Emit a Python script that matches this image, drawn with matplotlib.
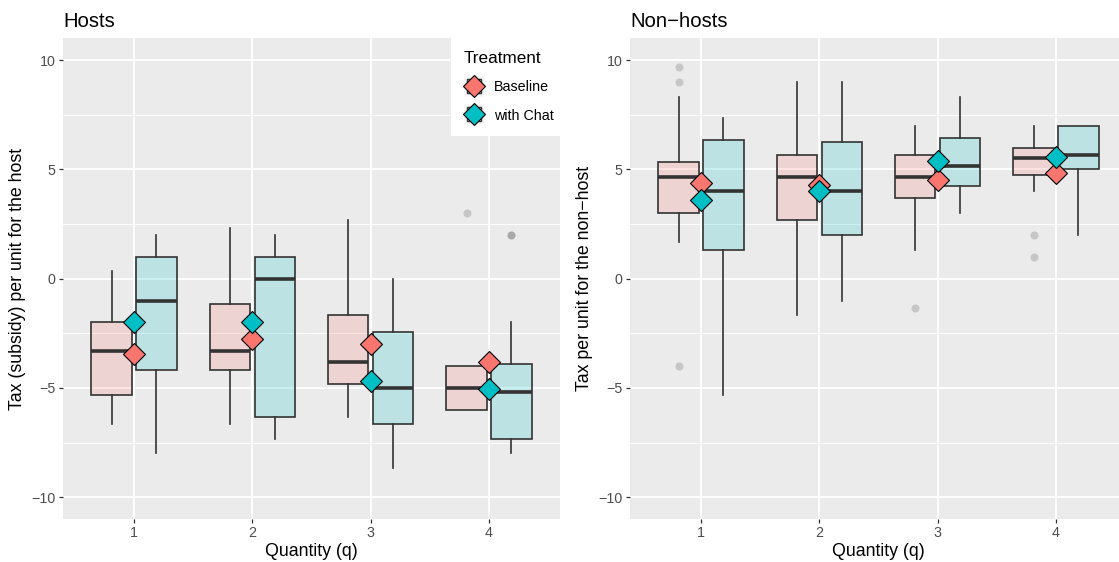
import matplotlib
matplotlib.use("Agg")
import matplotlib.pyplot as plt
import numpy as np
from matplotlib.colors import to_rgba
from matplotlib.lines import Line2D
from matplotlib.legend_handler import HandlerTuple

plt.rcParams["font.family"] = ["Liberation Sans", "DejaVu Sans"]

# ---- data (box stats per quantity 1..4) ------------------------------------
QUANTITY = [1, 2, 3, 4]
TREATMENTS = ["Baseline", "with Chat"]
COLORS = ["#F8766D", "#00BFC4"]

# Hosts - Baseline
host_base_q1 = [-5.33, -4.17, -4.83, -6.0]
host_base_med = [-3.33, -3.33, -3.83, -5.0]
host_base_q3 = [-2.0, -1.17, -1.67, -4.0]
host_base_lo = [-6.67, -6.67, -6.33, -6.0]
host_base_hi = [0.33, 2.33, 2.67, -4.0]
host_base_out = [[], [], [], [3.0]]
host_base_mean = [-3.43, -2.77, -2.97, -3.82]

# Hosts - with Chat
host_chat_q1 = [-4.17, -6.33, -6.67, -7.33]
host_chat_med = [-1.0, 0.0, -5.0, -5.17]
host_chat_q3 = [1.0, 1.0, -2.42, -3.92]
host_chat_lo = [-8.0, -7.33, -8.67, -8.0]
host_chat_hi = [2.0, 2.0, 0.0, -2.0]
host_chat_out = [[], [], [], [2.0, 2.0]]
host_chat_mean = [-2.0, -2.0, -4.69, -5.06]

# Non-hosts - Baseline
non_base_q1 = [3.0, 2.67, 3.67, 4.75]
non_base_med = [4.67, 4.67, 4.67, 5.5]
non_base_q3 = [5.33, 5.67, 5.67, 6.0]
non_base_lo = [1.67, -1.67, 1.33, 4.0]
non_base_hi = [8.33, 9.0, 7.0, 7.0]
non_base_out = [[9.67, 9.0, -4.0], [], [-1.33], [2.0, 1.0]]
non_base_mean = [4.39, 4.3, 4.51, 4.85]

# Non-hosts - with Chat
non_chat_q1 = [1.33, 2.0, 4.25, 5.0]
non_chat_med = [4.0, 4.0, 5.17, 5.67]
non_chat_q3 = [6.33, 6.25, 6.42, 7.0]
non_chat_lo = [-5.33, -1.0, 3.0, 2.0]
non_chat_hi = [7.33, 9.0, 8.33, 7.0]
non_chat_out = [[], [], [], []]
non_chat_mean = [3.62, 4.0, 5.37, 5.55]

EDGE = "#333333"
BG = "#EBEBEB"
W, H = 1119, 562


def make_stats(q1, med, q3, lo, hi, out):
    return [dict(q1=a, med=b, q3=c, whislo=d, whishi=e, fliers=f)
            for a, b, c, d, e, f in zip(q1, med, q3, lo, hi, out)]


def style_axes(ax, title, ylabel):
    ax.set_facecolor(BG)
    for s in ax.spines.values():
        s.set_visible(False)
    ax.set_xlim(0.4, 4.6)
    ax.set_ylim(-11, 11)
    ax.set_xticks(QUANTITY)
    ax.set_xticklabels([str(q) for q in QUANTITY])
    ax.set_yticks([-10, -5, 0, 5, 10])
    ax.set_yticks([-7.5, -2.5, 2.5, 7.5], minor=True)
    ax.grid(which="major", color="white", linewidth=1.3)
    ax.grid(which="minor", axis="y", color="white", linewidth=0.65)
    ax.set_axisbelow(True)
    ax.tick_params(which="major", length=3.2, width=0.9, color=EDGE,
                   labelcolor="#4D4D4D", labelsize=10.3, pad=2)
    ax.tick_params(which="minor", length=0)
    ax.set_title(title, loc="left", fontsize=14.6, pad=8)
    ax.set_xlabel("Quantity (q)", fontsize=12.8, labelpad=2)
    ax.set_ylabel(ylabel, fontsize=12.8, labelpad=4)


def draw_panel(ax, groups):
    # groups: list of (stats, means, color, offset)
    for stats, _, color, off in groups:
        ax.bxp(stats, positions=np.array(QUANTITY) + off, widths=0.34,
               patch_artist=True, showcaps=False, manage_ticks=False,
               boxprops=dict(facecolor=to_rgba(color, 0.2), edgecolor=EDGE,
                             linewidth=1.2),
               medianprops=dict(color=EDGE, linewidth=2.6,
                                solid_capstyle="butt"),
               whiskerprops=dict(color=EDGE, linewidth=1.2),
               flierprops=dict(marker="o", markersize=5.8,
                               markerfacecolor=to_rgba(EDGE, 0.2),
                               markeredgecolor="none", linestyle="none"))
    for _, means, color, _ in groups:
        ax.plot(QUANTITY, means, linestyle="none", marker="D",
                markersize=11, markerfacecolor=color,
                markeredgecolor="black", markeredgewidth=0.8, zorder=5)


fig = plt.figure(figsize=(W / 100, H / 100), dpi=100)
bottom = 1 - 519 / H
height = (519 - 38.3) / H
ax1 = fig.add_axes([63 / W, bottom, 497 / W, height])
ax2 = fig.add_axes([630 / W, bottom, 497 / W, height])

draw_panel(ax1, [
    (make_stats(host_base_q1, host_base_med, host_base_q3, host_base_lo,
                host_base_hi, host_base_out), host_base_mean, COLORS[0], -0.19),
    (make_stats(host_chat_q1, host_chat_med, host_chat_q3, host_chat_lo,
                host_chat_hi, host_chat_out), host_chat_mean, COLORS[1], 0.19),
])
draw_panel(ax2, [
    (make_stats(non_base_q1, non_base_med, non_base_q3, non_base_lo,
                non_base_hi, non_base_out), non_base_mean, COLORS[0], -0.19),
    (make_stats(non_chat_q1, non_chat_med, non_chat_q3, non_chat_lo,
                non_chat_hi, non_chat_out), non_chat_mean, COLORS[1], 0.19),
])
style_axes(ax1, "Hosts", "Tax (subsidy) per unit for the host")
style_axes(ax2, "Non\u2212hosts", "Tax per unit for the non\u2212host")

# legend keys: grey key background + box glyph + mean diamond
handles = []
for c in COLORS:
    handles.append((
        Line2D([], [], marker="s", markersize=15, markerfacecolor="#F2F2F2",
               markeredgecolor="none", linestyle="none"),
        Line2D([], [], marker="s", markersize=10.5, markerfacecolor=to_rgba(c, 0.2),
               markeredgecolor=EDGE, markeredgewidth=1.0, linestyle="none"),
        Line2D([], [], marker="D", markersize=11, markerfacecolor=c,
               markeredgecolor="black", markeredgewidth=0.8, linestyle="none"),
    ))
leg = ax1.legend(handles, TREATMENTS, handler_map={tuple: HandlerTuple(ndivide=1)},
                 title="Treatment", loc="upper right", bbox_to_anchor=(1.014, 1),
                 borderaxespad=0, fontsize=10.3, title_fontsize=12.3,
                 frameon=True, fancybox=False, framealpha=1,
                 handlelength=1.4, handleheight=0.85, handletextpad=0.75,
                 labelspacing=1.0, borderpad=0.9, alignment="left")
leg.get_frame().set_facecolor("white")
leg.get_frame().set_edgecolor("none")
leg.set_clip_on(False)

fig.savefig("out.png", dpi=100)
